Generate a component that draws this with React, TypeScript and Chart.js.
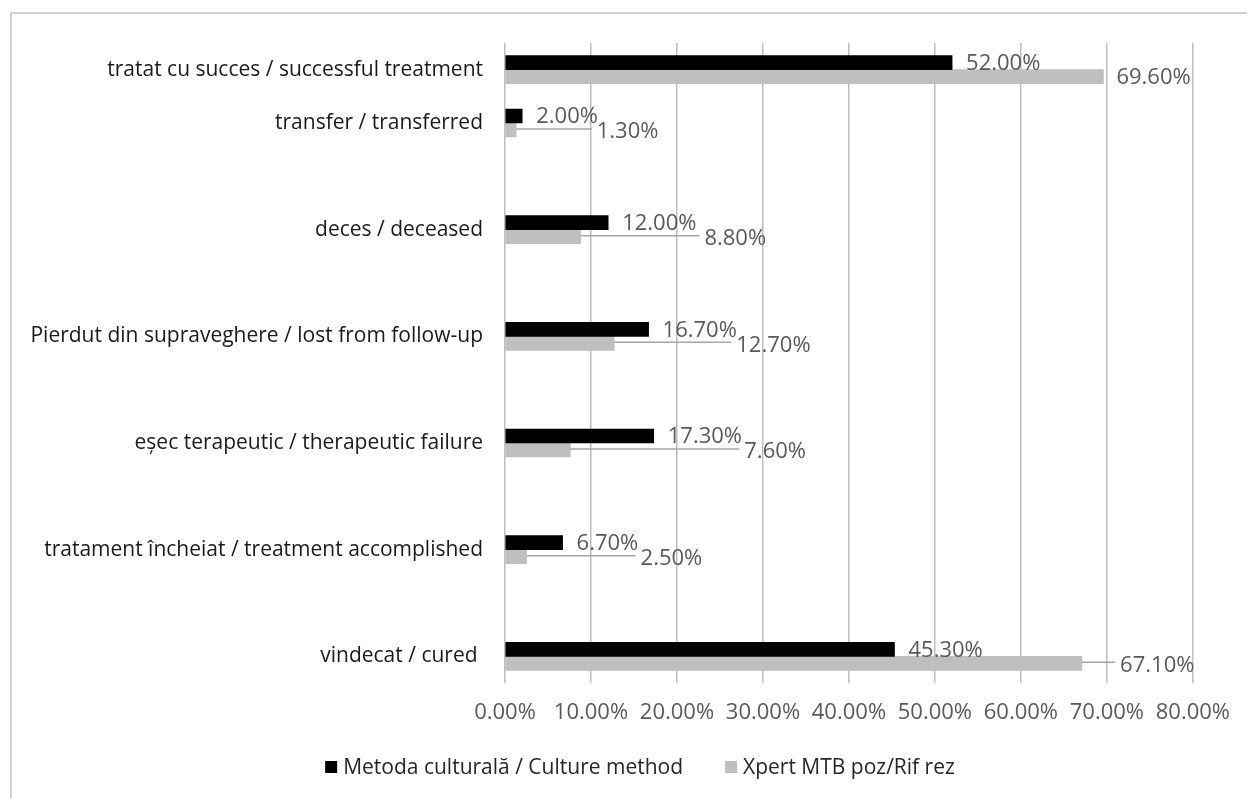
import React, { useEffect, useRef } from 'react';
import { Chart, registerables } from 'chart.js';

Chart.register(...registerables);

// Category slots (blank slots reproduce the uneven spacing of the original)
const categories: string[] = [
  'tratat cu succes / successful treatment',
  'transfer / transferred',
  '',
  'deces / deceased',
  '',
  'Pierdut din supraveghere / lost from follow-up',
  '',
  'eșec terapeutic / therapeutic failure',
  '',
  'tratament încheiat / treatment accomplished',
  '',
  'vindecat / cured ',
];

const seriesNames: string[] = ['Metoda culturală / Culture method', 'Xpert MTB poz/Rif rez'];

const cultureMethod: (number | null)[] = [52.0, 2.0, null, 12.0, null, 16.7, null, 17.3, null, 6.7, null, 45.3];
const xpertMtb: (number | null)[] = [69.6, 1.3, null, 8.8, null, 12.7, null, 7.6, null, 2.5, null, 67.1];

// Where the (manually moved) Xpert data labels sit, in axis units; null = default position
const xpertLabelAt: (number | null)[] = [null, 10.67, null, 23.19, null, 26.9, null, 27.83, null, 15.77, null, 71.54];

const xMin = 0;
const xMax = 80;
const xStep = 10;

const FONT = '"Open Sans", sans-serif';
const fmt = (v: number) => `${v.toFixed(2)}%`;

const decorPlugin = {
  id: 'decor',
  beforeDraw(chart: any) {
    const ctx = chart.ctx;
    ctx.save();
    ctx.fillStyle = '#ffffff';
    ctx.fillRect(0, 0, chart.width, chart.height);
    ctx.strokeStyle = '#d0d0d0';
    ctx.lineWidth = 2;
    ctx.beginPath();
    ctx.moveTo(11, chart.height);
    ctx.lineTo(11, 13);
    ctx.lineTo(chart.width, 13);
    ctx.stroke();
    ctx.restore();
  },
  afterDatasetsDraw(chart: any) {
    const ctx = chart.ctx;
    const xs = chart.scales.x;
    const m0 = chart.getDatasetMeta(0);
    const m1 = chart.getDatasetMeta(1);
    ctx.save();
    ctx.font = `22px ${FONT}`;
    ctx.textBaseline = 'middle';
    ctx.textAlign = 'left';
    ctx.fillStyle = '#595959';
    for (let i = 0; i < categories.length; i++) {
      const a = cultureMethod[i];
      if (a !== null && a !== undefined) {
        const el = m0.data[i];
        ctx.fillText(fmt(a), el.x + 14, el.y + 1);
      }
      const b = xpertMtb[i];
      if (b !== null && b !== undefined) {
        const el = m1.data[i];
        const at = xpertLabelAt[i];
        if (at === null || at === undefined) {
          ctx.fillText(fmt(b), el.x + 13, el.y + 1);
        } else {
          const lx = xs.getPixelForValue(at);
          ctx.strokeStyle = '#a6a6a6';
          ctx.lineWidth = 1.5;
          ctx.beginPath();
          ctx.moveTo(el.x, el.y - 1);
          ctx.lineTo(lx - 5, el.y - 1);
          ctx.stroke();
          ctx.fillText(fmt(b), lx, el.y + 2);
        }
      }
    }
    // legend
    const colors = ['#000000', '#bfbfbf'];
    ctx.font = `21px ${FONT}`;
    const box = 12;
    const gap = 6;
    const itemGap = 42;
    const widths = seriesNames.map((n) => box + gap + ctx.measureText(n).width);
    const total = widths.reduce((s, w) => s + w, 0) + itemGap * (widths.length - 1);
    let x = 640 - total / 2;
    const y = 767;
    seriesNames.forEach((n, k) => {
      ctx.fillStyle = colors[k];
      ctx.fillRect(x, y - box / 2, box, box);
      ctx.fillStyle = '#262626';
      ctx.fillText(n, x + box + gap, y + 1);
      x += widths[k] + itemGap;
    });
    ctx.restore();
  },
};

export default function App() {
  const ref = useRef<HTMLCanvasElement | null>(null);
  useEffect(() => {
    document.body.style.margin = '0';
    const canvas = ref.current;
    if (!canvas) return;
    const chart = new Chart(canvas, {
      type: 'bar',
      data: {
        labels: categories,
        datasets: [
          {
            label: seriesNames[0],
            data: cultureMethod,
            backgroundColor: '#000000',
            barThickness: 14,
          },
          {
            label: seriesNames[1],
            data: xpertMtb,
            backgroundColor: '#bfbfbf',
            barThickness: 14,
          },
        ],
      },
      options: {
        indexAxis: 'y',
        responsive: false,
        animation: false,
        devicePixelRatio: 1,
        layout: { padding: { top: 43, right: 52, left: 0, bottom: 0 } },
        plugins: {
          legend: { display: false },
          tooltip: { enabled: false },
        },
        scales: {
          x: {
            min: xMin,
            max: xMax,
            afterFit: (s: any) => {
              s.height = 798 - 683;
            },
            ticks: {
              stepSize: xStep,
              padding: 17,
              color: '#595959',
              font: { family: FONT, size: 22 },
              callback: (v: any) => fmt(Number(v)),
            },
            grid: { color: '#bdbdbd', lineWidth: 1.5, drawTicks: false },
            border: { display: false },
          },
          y: {
            afterFit: (s: any) => {
              s.width = 505;
            },
            ticks: {
              autoSkip: false,
              padding: 22,
              color: '#1a1a1a',
              font: { family: FONT, size: 21 },
            },
            grid: { display: false, drawTicks: false },
            border: { display: false },
          },
        },
      },
      plugins: [decorPlugin],
    });
    return () => chart.destroy();
  }, []);
  return <canvas ref={ref} width={1247} height={798} style={{ display: 'block' }} />;
}
